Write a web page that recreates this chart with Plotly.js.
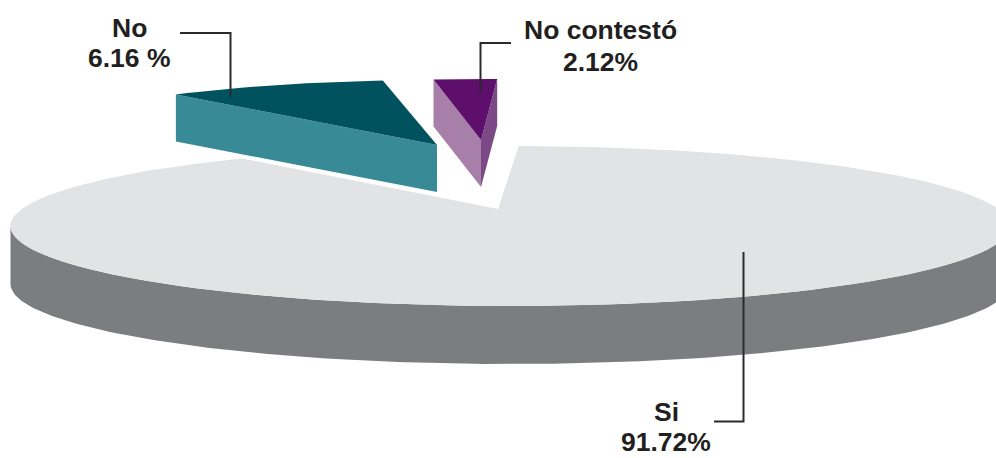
<!DOCTYPE html>
<html>
<head>
<meta charset="utf-8">
<script src="https://cdn.plot.ly/plotly-3.0.1.min.js"></script>
<style>html,body{margin:0;padding:0;background:#fff;overflow:hidden}#chart{width:996px;height:458px}</style>
</head>
<body>
<div id="chart"></div>
<script>
// Chart values
const categories = ['Si', 'No', 'No contestó'];
const values = [91.72, 6.16, 2.12];
const valueLabels = ['91.72%', '6.16 %', '2.12%'];

// Drawing geometry (pixels on the hidden 996x458 axes)
const sliceStyle = [
  {apex:[498,209], c:[510,226], rx:499.5, ry:80, depth:58, rimStart:89,  sweepScale:-0.989, top:'#e1e3e5', wall:'#7b7d80'},
  {apex:[437,145], c:[437,145], rx:415,   ry:65, depth:47, rimStart:97.5,sweepScale:1.42,  top:'#00525e', wall:'#388a96'},
  {apex:[481,140], c:[481,140], rx:386,   ry:61, depth:47, rimStart:87.6,sweepScale:1.24,  top:'#5e0f6b', wall:'#a77fa9', wall2:'#7b4a86'}
];
const labelPos = [[666,412,442],[129,28,58],[600,30,62]];
const leaders = ['M743.5,252 L743.5,421.5 L714,421.5','M180,33 L230.5,33 L230.5,97','M511,43 L480.5,43 L480.5,92'];

const traces = [];
function poly(pts, color){
  traces.push({type:'scatter', mode:'lines', x:pts.map(p=>p[0]), y:pts.map(p=>p[1]),
    fill:'toself', fillcolor:color, line:{width:0, color:color}, hoverinfo:'skip', showlegend:false});
}
values.forEach((v,i)=>{
  const s = sliceStyle[i];
  const sweep = v*3.6*s.sweepScale;
  const n = Math.max(2, Math.ceil(Math.abs(sweep)));
  const rim = [];
  for(let k=0;k<=n;k++){
    const t = (s.rimStart + sweep*k/n)*Math.PI/180;
    rim.push([t, s.c[0]+s.rx*Math.cos(t), s.c[1]-s.ry*Math.sin(t)]);
  }
  const a = s.apex, d = s.depth;
  const down = p=>[p[0],p[1]+d];
  if(i===0){
    // outer wall: lower half of the rim
    const vis = [];
    for(let k=180;k<=360;k++){
      const t=k*Math.PI/180;
      vis.push([s.c[0]+s.rx*Math.cos(t), s.c[1]-s.ry*Math.sin(t)]);
    }
    poly(vis.concat(vis.slice().reverse().map(down)), s.wall);
  } else if(i===1){
    // cut face toward the viewer: rim end -> apex
    const e = [rim[n][1],rim[n][2]];
    poly([e,a,down(a),down(e)], s.wall);
  } else {
    const e = [rim[n][1],rim[n][2]], b=[rim[0][1],rim[0][2]];
    poly([b,a,down(a),down(b)], s.wall2);
    poly([e,a,down(a),down(e)], s.wall);
  }
  poly([a].concat(rim.map(r=>[r[1],r[2]])).concat([a]), s.top);
});

const textFont = {family:'"Liberation Sans", Arial, sans-serif', size:26.5, color:'#231f20'};
const annotations = [];
categories.forEach((c,i)=>{
  const p = labelPos[i];
  const common = {xref:'x', yref:'y', x:p[0], showarrow:false, xanchor:'center', yanchor:'middle', font:textFont};
  annotations.push(Object.assign({text:'<b>'+c+'</b>', y:p[1]}, common));
  annotations.push(Object.assign({text:'<b>'+valueLabels[i]+'</b>', y:p[2]}, common));
});

const layout = {
  width:996, height:458, margin:{l:0,r:0,t:0,b:0},
  paper_bgcolor:'#fff', plot_bgcolor:'#fff', showlegend:false,
  xaxis:{range:[0,996], visible:false, fixedrange:true},
  yaxis:{range:[458,0], visible:false, fixedrange:true},
  annotations:annotations,
  shapes:leaders.map(path=>({type:'path', path:path, xref:'x', yref:'y', layer:'above',
    line:{color:'#2a2a2c', width:2}, fillcolor:'rgba(0,0,0,0)'}))
};
Plotly.newPlot('chart', traces, layout, {displayModeBar:false, staticPlot:true});
</script>
</body>
</html>
